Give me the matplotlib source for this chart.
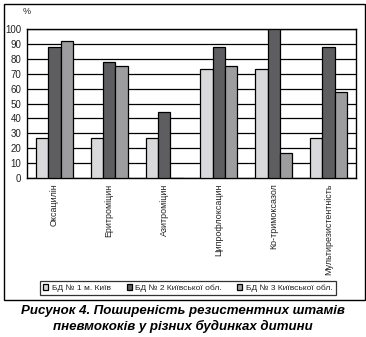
import matplotlib
matplotlib.use('Agg')
import matplotlib.pyplot as plt
import matplotlib.patches as mpatches
import numpy as np

# Антибіотики та частка резистентних штамів (%) по кожному будинку дитини
categories = ['Оксацилін', 'Еритроміцин', 'Азитроміцин',
              'Ципрофлоксацин', 'Ко-тримоксазол', 'Мультирезистентність']
bd1 = [27, 27, 27, 73, 73, 27]
bd2 = [88, 78, 44, 88, 100, 88]
bd3 = [92, 75, 0, 75, 17, 58]
series_names = ['БД № 1 м. Київ', 'БД № 2 Київської обл.', 'БД № 3 Київської обл.']
yticks = list(range(0, 101, 10))

COLORS = ['#d9d9db', '#5e5e60', '#9d9d9f']
FONT = ['Liberation Sans Narrow', 'Liberation Sans', 'DejaVu Sans']
plt.rcParams['font.family'] = FONT
TXT = '#222222'

W, H = 366, 337
fig = plt.figure(figsize=(W / 100, H / 100), dpi=100)
fig.patch.set_facecolor('white')

# рамка навколо діаграми
fig.patches.append(mpatches.Rectangle(
    (3.5 / W, 1 - 300 / H), 361 / W, 296.5 / H, transform=fig.transFigure,
    fill=False, edgecolor='black', linewidth=1.0))

ax = fig.add_axes([27 / W, 1 - 178 / H, 329 / W, 149 / H])
x = np.arange(len(categories)) + 0.5
bw = 0.225
for k, vals in enumerate([bd1, bd2, bd3]):
    ax.bar(x + (k - 1) * bw, vals, width=bw, color=COLORS[k],
           edgecolor='black', linewidth=0.9, zorder=3, label=series_names[k])

ax.set_xlim(0, len(categories))
ax.set_ylim(0, 100)
ax.set_yticks(yticks)
ax.set_yticklabels([str(v) for v in yticks], fontsize=7, color=TXT)
ax.set_xticks(x)
ax.set_xticklabels(categories, rotation=90, fontsize=6.4, va='top', color=TXT)
ax.tick_params(axis='x', length=0, pad=4)
ax.tick_params(axis='y', length=0, pad=4)
ax.grid(axis='y', color='black', linewidth=0.9, zorder=0)
for sp in ax.spines.values():
    sp.set_linewidth(1.0)
    sp.set_color('black')

fig.text(27 / W, 1 - 11 / H, '%', fontsize=6.5, color=TXT, ha='center', va='center')

leg = fig.legend(loc='center', bbox_to_anchor=(188 / W, 1 - 288 / H), ncol=3,
                 fontsize=6, frameon=True, fancybox=False, handlelength=0.6,
                 handleheight=0.6, handletextpad=0.4, columnspacing=1.9,
                 borderpad=0.35, edgecolor='black')
leg.get_frame().set_linewidth(0.9)
for t in leg.get_texts():
    t.set_color(TXT)

fig.text(183 / W, 1 - 311 / H, 'Рисунок 4. Поширеність резистентних штамів',
         fontsize=9.5, fontweight='bold', fontstyle='italic',
         family=['Liberation Sans', 'DejaVu Sans'], ha='center', va='center')
fig.text(183 / W, 1 - 326 / H, 'пневмококів у різних будинках дитини',
         fontsize=9.5, fontweight='bold', fontstyle='italic',
         family=['Liberation Sans', 'DejaVu Sans'], ha='center', va='center')

fig.savefig('out.png', dpi=100, facecolor='white')
